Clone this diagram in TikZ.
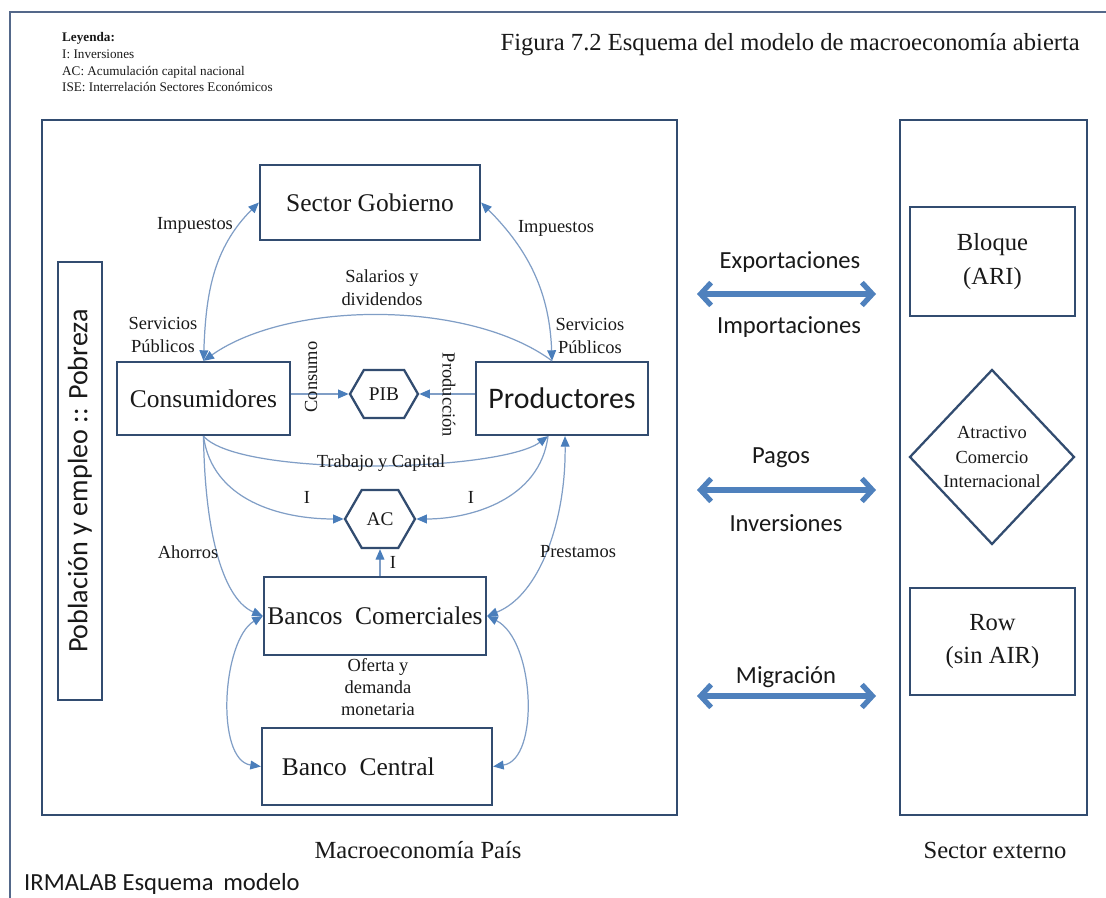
\documentclass[tikz,border=0pt]{standalone}
\usepackage{fontspec}
\setmainfont{Liberation Serif}
\newfontfamily\calibri{Carlito}
\usepackage{tikz}
\usetikzlibrary{shapes.geometric, shapes.symbols, arrows.meta}

\definecolor{boxblue}{RGB}{50,76,112}
\definecolor{framegray}{RGB}{84,104,138}
\definecolor{linkblue}{RGB}{128,158,198}
\definecolor{tipblue}{RGB}{74,126,187}
\definecolor{wideblue}{RGB}{79,129,189}

\newcommand{\fsz}[2]{\fontsize{#1}{#2}\selectfont}

\begin{document}
\begin{tikzpicture}[
  x=0.02cm, y=-0.02cm,
  every node/.style={align=center, text=black!90},
  box/.style={rectangle, draw=boxblue, line width=1.3pt, inner sep=2pt},
  serifbox/.style={box, font=\fsz{14.5}{19}},
  sansbox/.style={box, font=\calibri\fsz{17}{20}},
  hexa/.style={signal, signal to=east and west, signal pointer angle=120,
               draw=boxblue, line width=1.3pt, inner sep=1pt, font=\fsz{11}{13}},
  lbl/.style={font=\fsz{10.5}{13}, inner sep=1pt},
  link/.style={draw=linkblue, line width=0.7pt,
               -{Triangle[length=6pt,width=5pt,color=tipblue]}},
  bilink/.style={link, {Triangle[length=6pt,width=5pt,color=tipblue]}-{Triangle[length=6pt,width=5pt,color=tipblue]}},
  trade/.style={draw=wideblue, line width=3pt,
                {Straight Barb[length=6pt,width=13pt]}-{Straight Barb[length=6pt,width=13pt]}},
  tradelbl/.style={font=\calibri\fsz{14}{17}}
]
\useasboundingbox (0,0) rectangle (1106,898);

% --- Page frame, legend and title ---
\draw[draw=framegray, line width=1.2pt] (10,898) -- (10,12) -- (1106,12);
\node[anchor=north west, align=left, font=\fsz{7.5}{9.6}] (legend) at (56,26) {%
  \textbf{Leyenda:}\\
  I: Inversiones\\
  AC:\ Acumulación capital nacional\\
  ISE:\ Interrelación Sectores Económicos};
\node[anchor=east, font=\fsz{14}{17}] (title) at (1086,45) {Figura 7.2 Esquema del modelo de macroeconomía abierta};
\node[anchor=west, font=\calibri\fsz{14}{17}] (credit) at (18,884) {IRMALAB Esquema\, modelo};

% --- Outer blocks ---
\node[box, minimum width=12.7cm, minimum height=13.9cm] (macro) at (359.5,467.5) {};
\node[box, minimum width=3.74cm, minimum height=13.9cm] (ext) at (993.5,467.5) {};
\node[font=\fsz{14}{17}] (macrolbl) at (418,850) {Macroeconomía País};
\node[font=\fsz{14}{17}] (extlbl) at (995,850) {Sector externo};

% --- Country sectors ---
\node[sansbox, rotate=90, font=\calibri\fsz{16}{19}, minimum width=8.76cm, minimum height=0.88cm] (pob) at (80,481) {Población y empleo :: Pobreza};
\node[serifbox, minimum width=4.4cm, minimum height=1.5cm] (gob) at (370,202.5) {Sector Gobierno};
\node[serifbox, minimum width=3.46cm, minimum height=1.46cm] (cons) at (203.5,398.5) {Consumidores};
\node[sansbox, minimum width=3.44cm, minimum height=1.46cm] (prod) at (562,398.5) {Productores};
\node[hexa, minimum width=1.36cm, minimum height=0.96cm] (pib) at (384,394) {PIB};
\node[hexa, minimum width=1.4cm, minimum height=1.16cm] (ac) at (380,519) {AC};
\node[serifbox, minimum width=4.4cm, minimum height=1.56cm] (bcom) at (375,616) {Bancos\enspace Comerciales};
\node[serifbox, minimum width=4.6cm, minimum height=1.54cm] (bcen) at (377,766.5) {Banco\enspace Central\hspace*{0.75cm}};

% --- External sector ---
\node[serifbox, font=\fsz{14}{19}, minimum width=3.3cm, minimum height=2.18cm] (ari) at (992.5,261.5) {Bloque\\(ARI)};
\node[diamond, draw=boxblue, line width=1.3pt, inner sep=0pt, minimum width=3.3cm, minimum height=3.5cm,
      font=\fsz{10.5}{14}] (atr) at (992,457) {Atractivo\\Comercio\\Internacional};
\node[serifbox, font=\fsz{14}{19}, minimum width=3.3cm, minimum height=2.14cm] (row) at (992.5,641.5) {Row\\(sin AIR)};

% --- Government flows ---
\draw[bilink] (cons.north) to[out=88, in=225] (gob.west);
\draw[bilink] ([xshift=-0.2cm]prod.north) to[out=92, in=-45] (gob.east);
\draw[link] ([xshift=-0.2cm]prod.north) .. controls (470,300) and (290,300) .. (cons.north);
\node[lbl] (impl) at (195,225) {Impuestos};
\node[lbl] (impr) at (556,228) {Impuestos};
\node[lbl] (servl) at (163,335) {Servicios\\Públicos};
\node[lbl] (servr) at (590,336) {Servicios\\Públicos};
\node[lbl] (sal) at (382,288) {Salarios y\\dividendos};

% --- PIB ---
\draw[link] (cons.east |- pib.west) -- (pib.west);
\draw[link] (prod.west |- pib.east) -- (pib.east);
\node[lbl, rotate=90] (consumo) at (311,377) {Consumo};
\node[lbl, rotate=-90] (produc) at (449,395) {Producción};

% --- Capital and investment ---
\draw[link] (cons.south) .. controls (240,478) and (500,472) .. ([xshift=-0.28cm]prod.south);
\draw[link] (cons.south) .. controls (212,500) and (280,519) .. (ac.west);
\draw[link] ([xshift=-0.28cm]prod.south) .. controls (540,500) and (470,519) .. (ac.east);
\draw[link] (ac.south |- bcom.north) -- (ac.south);
\node[lbl] (trab) at (381,463) {Trabajo y Capital};
\node[lbl] (il) at (307,497) {I};
\node[lbl] (ir) at (471,497) {I};
\node[lbl] (ib) at (393,562) {I};

% --- Banking ---
\draw[link] (cons.south) .. controls (205,540) and (225,600) .. (bcom.west);
\draw[bilink] (bcom.east) .. controls (540,595) and (566,520) .. ([xshift=0.06cm]prod.south);
\draw[bilink] (bcom.west) .. controls (222,640) and (215,760) .. (bcen.west);
\draw[bilink] (bcom.east) .. controls (535,640) and (540,760) .. (bcen.east);
\node[lbl] (ahorros) at (188,552) {Ahorros};
\node[lbl] (prest) at (578,552) {Prestamos};
\node[lbl, font=\fsz{10.5}{12.5}] (oferta) at (378,687) {Oferta y\\demanda\\monetaria};

% --- Trade with the outside ---
\coordinate (t1a) at (697,294); \coordinate (t1b) at (876,294);
\coordinate (t2a) at (697,490); \coordinate (t2b) at (876,490);
\coordinate (t3a) at (697,696); \coordinate (t3b) at (876,696);
\draw[trade] (t1a) -- (t1b);
\draw[trade] (t2a) -- (t2b);
\draw[trade] (t3a) -- (t3b);
\node[tradelbl] (expo) at (790,262) {Exportaciones};
\node[tradelbl] (impo) at (789,327) {Importaciones};
\node[tradelbl] (pagos) at (781,458) {Pagos};
\node[tradelbl] (inv) at (786,523) {Inversiones};
\node[tradelbl] (migr) at (786,677) {Migración};

\end{tikzpicture}
\end{document}
